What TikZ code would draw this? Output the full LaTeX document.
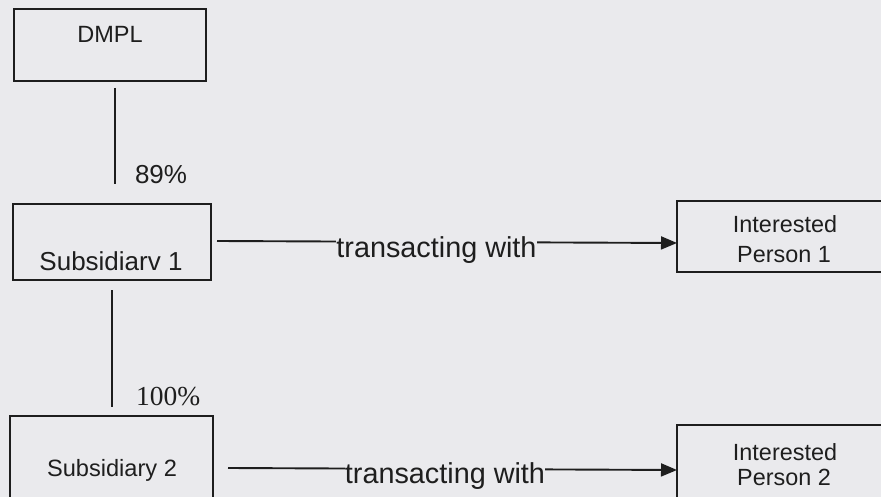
\documentclass[tikz,border=0pt]{standalone}
\usepackage{fontspec}
\setmainfont{Liberation Sans}
\newfontfamily\timesfont{Liberation Serif}
\usetikzlibrary{arrows.meta}
\definecolor{bg}{RGB}{234,234,237}
\definecolor{ink}{RGB}{30,30,30}
\tikzset{
  box/.style={draw=ink, line width=1.9pt, inner sep=0pt, outer sep=0pt},
  lbl/.style={text=ink, inner sep=0pt, outer sep=0pt, anchor=base},
  gap/.style={lbl, fill=bg},
  link/.style={draw=ink, line width=1.9pt},
  flow/.style={link, -{Triangle[length=16pt,width=13pt]}},
}
\newcommand{\fs}[1]{\fontsize{#1}{#1}\selectfont}
\begin{document}
\begin{tikzpicture}[x=1pt,y=-1pt]
  \fill[bg] (0,0) rectangle (881,497);
  \useasboundingbox (0,0) rectangle (881,497);
  \clip (0,0) rectangle (881,497);

  % boxes
  \node[box, minimum width=192pt, minimum height=72pt]  (dmpl) at (110,45) {};
  \node[box, minimum width=198pt, minimum height=76pt]  (sub1) at (112,242) {};
  \node[box, minimum width=203pt, minimum height=104pt] (sub2) at (111.5,468) {};
  \node[box, minimum width=213pt, minimum height=71pt]  (ip1)  at (783.5,236.5) {};
  \node[box, minimum width=213pt, minimum height=95pt]  (ip2)  at (783.5,472.5) {};

  % box texts
  \node[lbl] (tdmpl) at (110,43)  {\fs{23.5}DMPL};
  \node[lbl] (tsub1) at (111,270) {\fs{26}Subsidiarv 1};
  \node[lbl] (tsub2) at (112,476) {\fs{23.6}Subsidiary 2};
  \node[lbl] (tip1a) at (785,233) {\fs{23.4}Interested};
  \node[lbl] (tip1b) at (784,262) {\fs{23.4}Person 1};
  \node[lbl] (tip2a) at (785,460) {\fs{23.4}Interested};
  \node[lbl] (tip2b) at (784,485) {\fs{23.4}Person 2};

  % ownership links
  \draw[link] ([xshift=5pt,yshift=-7pt]dmpl.south) -- ([xshift=3pt,yshift=20pt]sub1.north);
  \node[lbl, anchor=base west] (p89) at (135,184) {\fs{26}89\%};
  \draw[link] ([yshift=-10pt]sub1.south) -- ([xshift=0.5pt,yshift=9pt]sub2.north);
  \node[lbl, anchor=base west] (p100) at (136,405) {\timesfont\fs{27.5}100\%};

  % transactions
  \draw[flow] ([xshift=6pt,yshift=1pt]sub1.east) -- (ip1.west |- {(0,243)});
  \node[gap] (tw1) at (436.5,258) {\fs{28.8}transacting with};
  \draw[flow] ([xshift=15pt]sub2.east) -- (ip2.west |- {(0,470)});
  \node[gap] (tw2) at (445,483) {\fs{28.8}transacting with};
\end{tikzpicture}
\end{document}
